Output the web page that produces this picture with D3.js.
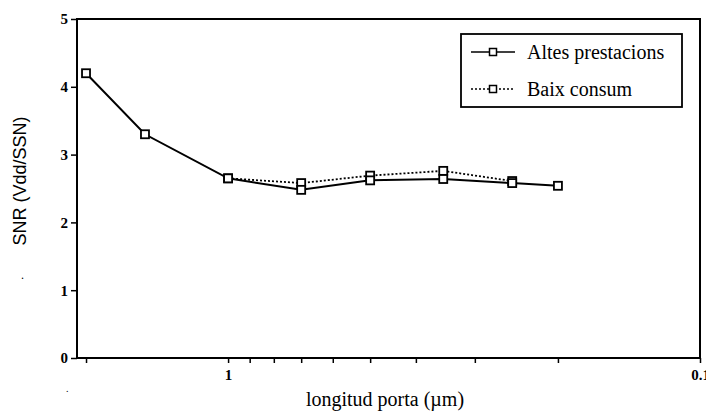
<!DOCTYPE html>
<html>
<head>
<meta charset="utf-8">
<script src="https://cdn.jsdelivr.net/npm/d3@7"></script>
<style>
  body { margin: 0; background: #fff; }
  svg { display: block; }
</style>
</head>
<body>
<div id="chart"></div>
<script>
// Dades llegides del gràfic
const longitud = [2.0, 1.5, 1.0, 0.7, 0.5, 0.35, 0.25, 0.2];
const altesPrestacions = [4.2, 3.3, 2.65, 2.48, 2.62, 2.64, 2.58, 2.54];
const baixLongitud = [1.0, 0.7, 0.5, 0.35, 0.25];
const baixConsum = [2.65, 2.58, 2.69, 2.76, 2.61];
const xTicks = [2, 1, 0.9, 0.8, 0.7, 0.6, 0.5, 0.4, 0.3, 0.2, 0.1];
const xTickLabels = { 1: "1", 0.1: "0.1" };
const yTicks = [0, 1, 2, 3, 4, 5];
const seriesNames = ["Altes prestacions", "Baix consum"];

const W = 706, H = 413;
const mLeft = 77, mRight = 700, mTop = 19, mBottom = 358;

const svg = d3.select("#chart")
    .append("svg")
    .attr("width", W)
    .attr("height", H);

const x = d3.scaleLog()
    .domain([2.09, 0.1])
    .range([mLeft, mRight]);

const y = d3.scaleLinear()
    .domain([0, 5])
    .range([mBottom, mTop]);

const serif = "'Liberation Serif', 'Times New Roman', serif";

// Marc
svg.append("rect")
    .attr("x", mLeft).attr("y", mTop)
    .attr("width", mRight - mLeft).attr("height", mBottom - mTop)
    .attr("fill", "none").attr("stroke", "#000").attr("stroke-width", 2);

// Eix X
const gx = svg.append("g")
    .attr("transform", `translate(0,${mBottom})`)
    .call(d3.axisBottom(x).tickValues(xTicks).tickSize(5).tickPadding(6)
        .tickFormat(d => xTickLabels[d] || ""));
gx.select(".domain").remove();
gx.selectAll("line").attr("stroke-width", 1.5);
gx.selectAll("text")
    .style("font-family", serif).style("font-size", "15px").style("font-weight", "bold");

// Eix Y
const gy = svg.append("g")
    .attr("transform", `translate(${mLeft},0)`)
    .call(d3.axisLeft(y).tickValues(yTicks).tickSize(6).tickPadding(3).tickFormat(d3.format("d")));
gy.select(".domain").remove();
gy.selectAll("line").attr("stroke-width", 1.5);
gy.selectAll("text")
    .style("font-family", serif).style("font-size", "15px").style("font-weight", "bold");

// Línies
const line = d3.line().x(d => x(d[0])).y(d => y(d[1]));

const altes = longitud.map((l, i) => [l, altesPrestacions[i]]);
const baix = baixLongitud.map((l, i) => [l, baixConsum[i]]);

svg.append("path")
    .datum(baix)
    .attr("d", line)
    .attr("fill", "none").attr("stroke", "#000")
    .attr("stroke-width", 1.8).attr("stroke-dasharray", "2,2");

svg.append("path")
    .datum(altes)
    .attr("d", line)
    .attr("fill", "none").attr("stroke", "#000").attr("stroke-width", 2);

const sq = 8;
function markers(data) {
    svg.append("g").selectAll("rect")
        .data(data)
        .enter()
        .append("rect")
        .attr("x", d => x(d[0]) - sq / 2)
        .attr("y", d => y(d[1]) - sq / 2)
        .attr("width", sq).attr("height", sq)
        .attr("fill", "#fff").attr("stroke", "#000").attr("stroke-width", 1.8);
}
markers(baix);
markers(altes);

// Llegenda
const lg = svg.append("g");
lg.append("rect")
    .attr("x", 461).attr("y", 34).attr("width", 221).attr("height", 73)
    .attr("fill", "#fff").attr("stroke", "#000").attr("stroke-width", 1.8);

seriesNames.forEach((name, i) => {
    const ly = 52 + i * 37;
    lg.append("line")
        .attr("x1", 471).attr("x2", 515).attr("y1", ly).attr("y2", ly)
        .attr("stroke", "#000").attr("stroke-width", i === 0 ? 1.6 : 1.4)
        .attr("stroke-dasharray", i === 0 ? null : "2,2");
    lg.append("rect")
        .attr("x", 493 - 3.5).attr("y", ly - 3.5).attr("width", 7).attr("height", 7)
        .attr("fill", "#fff").attr("stroke", "#000").attr("stroke-width", 1.5);
    lg.append("text")
        .attr("x", 527).attr("y", ly + 7)
        .style("font-family", serif).style("font-size", "20px")
        .text(name);
});

// Títols dels eixos
svg.append("text")
    .attr("x", 385).attr("y", 406)
    .attr("text-anchor", "middle")
    .style("font-family", serif).style("font-size", "20px")
    .text("longitud porta (\u00b5m)");

svg.append("text")
    .attr("transform", "translate(26,181) rotate(-90)")
    .attr("text-anchor", "middle")
    .style("font-family", "'Liberation Sans', Arial, sans-serif").style("font-size", "18px")
    .text("SNR (Vdd/SSN)");

// punts solts de l'escaneig
svg.append("text").attr("x", 21).attr("y", 279).style("font-size", "12px").text(".");
svg.append("text").attr("x", 66).attr("y", 392).style("font-size", "10px").text(".");
</script>
</body>
</html>
